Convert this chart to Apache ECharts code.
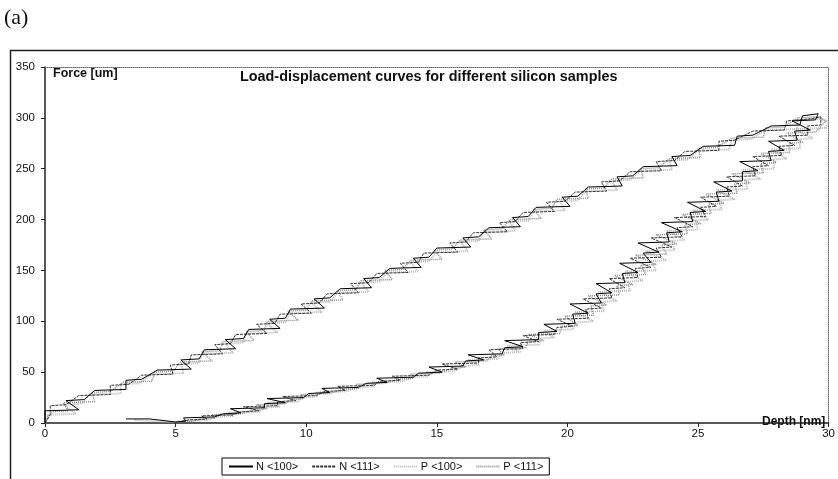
<!DOCTYPE html>
<html>
<head>
<meta charset="utf-8">
<script src="https://cdn.jsdelivr.net/npm/echarts@6/dist/echarts.min.js"></script>
<style>
  html, body { margin: 0; padding: 0; background: #fff; }
  #chart_example { width: 838px; height: 479px; }
</style>
</head>
<body>
<div id="chart_example"></div>
<script>
// [depth nm, force] pairs, loading branch then unloading branch
var seriesNames = ['N <100>', 'N <111>', 'P <100>', 'P <111>']
var xTicks = [0, 5, 10, 15, 20, 25, 30]
var yTicks = [0, 50, 100, 150, 200, 250, 300, 350]

var n100 = [
  [0, 0], [0, 12], [1.3, 13], [0.8, 22], [1.5, 23], [1.9, 32], [3.1, 33], [3.1, 42], [3.7, 43],
  [4.3, 52], [5.6, 53], [5.2, 62], [5.9, 63], [6.1, 72], [7.3, 73], [6.9, 82], [7.6, 83],
  [7.8, 92], [9.0, 93], [8.6, 102], [9.2, 103], [9.4, 112], [10.7, 113], [10.3, 122], [10.9, 123],
  [11.3, 132], [12.5, 133], [12.2, 142], [12.8, 143], [13.2, 152], [14.4, 153], [14.1, 162], [14.7, 163],
  [15.0, 172], [16.3, 173], [16.0, 182], [16.6, 183], [17.0, 192], [18.2, 193], [17.9, 202], [18.5, 203],
  [18.8, 212], [20.1, 213], [19.8, 222], [20.4, 223], [20.8, 232], [22.1, 233], [21.9, 242], [22.5, 243],
  [22.9, 252], [24.2, 253], [24.0, 262], [24.7, 263], [25.2, 272], [26.4, 273], [26.5, 282], [27.1, 283],
  [27.8, 292], [28.9, 293], [29.0, 302], [29.6, 304],
  [29.5, 298], [28.6, 297], [29.3, 288], [28.7, 287], [28.8, 278], [27.7, 277], [28.3, 268], [27.7, 267],
  [27.8, 258], [26.6, 257], [27.3, 248], [26.7, 247], [26.7, 238], [25.6, 237], [26.3, 228], [25.7, 227],
  [25.8, 218], [24.6, 217], [25.3, 208], [24.7, 207], [24.8, 198], [23.6, 197], [24.4, 188], [23.8, 187],
  [23.9, 178], [22.7, 177], [23.5, 168], [22.9, 167], [23.2, 158], [22.0, 157], [22.7, 148], [22.1, 147],
  [22.2, 138], [21.1, 137], [21.7, 128], [21.1, 127], [21.3, 118], [20.1, 117], [20.8, 108], [20.2, 107],
  [20.3, 98], [19.1, 97], [19.6, 90], [18.9, 89], [18.9, 82], [17.6, 81], [18.3, 75], [17.6, 74],
  [17.5, 68], [16.2, 67], [16.8, 62], [16.1, 61], [16.0, 56], [14.7, 55], [15.2, 50], [14.3, 49],
  [14.1, 45], [12.7, 44], [13.1, 40], [12.3, 39], [12.0, 35], [10.6, 34], [10.9, 30], [10.1, 29],
  [9.9, 25], [8.5, 24], [9.2, 20], [8.4, 19], [8.4, 15], [7.1, 14], [7.5, 10], [6.8, 9],
  [6.5, 6], [5.3, 5], [5.4, 2], [5.0, 1], [4.0, 4], [3.1, 4]
]

var n111 = [
  [0, 0], [0.2, 8], [0.2, 17], [0.8, 18], [1.3, 27], [2.5, 28], [2.5, 37], [3.2, 38], [3.7, 47], [4.9, 48],
  [4.8, 57], [5.5, 58], [5.6, 67], [6.8, 68], [6.5, 77], [7.1, 78], [7.3, 87], [8.5, 88],
  [8.1, 97], [8.8, 98], [9.0, 107], [10.2, 108], [9.8, 117], [10.5, 118], [10.8, 127], [12.0, 128],
  [11.7, 137], [12.4, 138], [12.7, 147], [13.9, 148], [13.6, 157], [14.3, 158], [14.5, 167], [15.8, 168],
  [15.5, 177], [16.1, 178], [16.4, 187], [17.7, 188], [17.4, 197], [18.0, 198], [18.3, 207], [19.5, 208],
  [19.2, 217], [19.9, 218], [20.3, 227], [21.5, 228], [21.3, 237], [22.0, 238], [22.4, 247], [23.6, 248],
  [23.4, 257], [24.1, 258], [24.5, 267], [25.8, 268], [25.8, 277], [26.4, 278], [27.1, 287], [28.3, 288],
  [28.4, 297], [29.3, 299], [29.7, 301],
  [29.7, 293], [29.2, 292], [29.2, 283], [28.1, 282], [28.7, 273], [28.1, 272], [28.2, 263], [27.1, 262],
  [27.7, 253], [27.1, 252], [27.2, 243], [26.1, 242], [26.7, 233], [26.1, 232], [26.2, 223], [25.1, 222],
  [25.7, 213], [25.1, 212], [25.3, 203], [24.1, 202], [24.8, 193], [24.2, 192], [24.4, 183], [23.2, 182],
  [24.0, 173], [23.4, 172], [23.6, 163], [22.4, 162], [23.2, 153], [22.6, 152], [22.7, 143], [21.6, 142],
  [22.2, 133], [21.6, 132], [21.7, 123], [20.6, 122], [21.3, 113], [20.7, 112], [20.8, 103], [19.6, 102],
  [20.2, 95], [19.6, 94], [19.5, 87], [18.3, 86], [18.9, 80], [18.2, 79], [18.3, 73], [17.0, 72],
  [17.3, 65], [16.6, 64], [16.6, 59], [15.2, 58], [15.8, 53], [15.0, 52], [14.7, 47], [13.3, 46],
  [13.6, 42], [12.8, 41], [12.6, 37], [11.2, 36], [11.5, 32], [10.7, 31], [10.4, 27], [9.1, 26],
  [9.6, 22], [8.9, 21], [8.9, 17], [7.6, 16], [8.2, 12], [7.5, 11], [7.2, 8], [6.0, 7],
  [6.2, 4], [5.5, 3], [5.1, 1]
]

var p100 = [
  [0, 0], [0.1, 4], [0.1, 8], [1.2, 9], [0.7, 18], [1.4, 19], [1.7, 28], [2.9, 29], [2.9, 38], [3.6, 39],
  [4.1, 48], [5.3, 49], [5.2, 58], [5.9, 59], [6.0, 68], [7.2, 69], [6.9, 78], [7.6, 79],
  [7.7, 88], [8.9, 89], [8.5, 98], [9.2, 99], [9.4, 108], [10.6, 109], [10.2, 118], [10.9, 119],
  [11.2, 128], [12.4, 129], [12.1, 138], [12.8, 139], [13.1, 148], [14.3, 149], [14.0, 158], [14.7, 159],
  [15.0, 168], [16.2, 169], [15.9, 178], [16.6, 179], [16.8, 188], [18.0, 189], [17.8, 198], [18.5, 199],
  [18.7, 208], [19.9, 209], [19.7, 218], [20.4, 219], [20.7, 228], [21.9, 229], [21.7, 238], [22.4, 239],
  [22.8, 248], [24.0, 249], [23.9, 258], [24.6, 259], [25.0, 268], [26.2, 269], [26.3, 278], [27.0, 279],
  [27.6, 288], [28.8, 289], [28.8, 298], [29.7, 299], [30.0, 296],
  [29.9, 290], [28.7, 289], [29.4, 280], [28.9, 279], [28.9, 270], [27.8, 269], [28.4, 260], [27.9, 259],
  [27.9, 250], [26.7, 249], [27.4, 240], [26.8, 239], [26.9, 230], [25.7, 229], [26.4, 220], [25.8, 219],
  [25.9, 210], [24.8, 209], [25.4, 200], [24.9, 199], [25.0, 190], [23.8, 189], [24.5, 180], [24.0, 179],
  [24.1, 170], [23.0, 169], [23.8, 160], [23.2, 159], [23.4, 150], [22.2, 149], [22.9, 140], [22.3, 139],
  [22.4, 130], [21.2, 129], [21.9, 120], [21.3, 119], [21.4, 110], [20.3, 109], [21.0, 100], [20.4, 99],
  [20.2, 92], [19.1, 91], [19.5, 84], [19.0, 83], [18.9, 77], [17.7, 76], [18.2, 70], [17.6, 69],
  [17.3, 63], [16.2, 62], [16.6, 57], [16.0, 56], [15.7, 51], [14.6, 50], [14.7, 46], [14.1, 45],
  [13.7, 41], [12.5, 40], [12.6, 36], [12.0, 35], [11.5, 31], [10.4, 30], [10.4, 26], [9.8, 25],
  [9.7, 21], [8.5, 20], [9.0, 16], [8.4, 15], [8.2, 11], [7.0, 10], [7.2, 7], [6.6, 6],
  [6.2, 3], [5.3, 2], [4.9, 1], [3.4, 3]
]

var p111 = [
  [0, 0], [0.1, 6], [0.3, 11], [0.9, 12], [0.7, 20], [1.9, 21], [1.8, 30], [2.5, 31], [3.0, 40], [4.1, 41],
  [4.2, 50], [4.9, 51], [5.2, 60], [6.4, 61], [6.0, 70], [6.7, 71], [6.8, 80], [8.0, 81],
  [7.7, 90], [8.4, 91], [8.5, 100], [9.7, 101], [9.3, 110], [10.0, 111], [10.2, 120], [11.4, 121],
  [11.2, 130], [11.9, 131], [12.1, 140], [13.3, 141], [13.0, 150], [13.7, 151], [14.0, 160], [15.2, 161],
  [14.9, 170], [15.6, 171], [15.9, 180], [17.1, 181], [16.8, 190], [17.5, 191], [17.8, 200], [19.0, 201],
  [18.7, 210], [19.4, 211], [19.6, 220], [20.8, 221], [20.7, 230], [21.4, 231], [21.7, 240], [22.9, 241],
  [22.8, 250], [23.5, 251], [23.9, 260], [25.1, 261], [25.0, 270], [25.7, 271], [26.3, 280], [27.5, 281],
  [27.6, 290], [28.3, 291], [28.8, 300], [29.6, 301], [29.9, 297],
  [29.5, 286], [28.4, 285], [29.0, 276], [28.5, 275], [28.5, 266], [27.4, 265], [28.0, 256], [27.4, 255],
  [27.5, 246], [26.3, 245], [27.0, 236], [26.4, 235], [26.5, 226], [25.3, 225], [26.0, 216], [25.4, 215],
  [25.5, 206], [24.4, 205], [25.1, 196], [24.5, 195], [24.6, 186], [23.4, 185], [24.2, 176], [23.6, 175],
  [23.8, 166], [22.6, 165], [23.4, 156], [22.8, 155], [23.0, 146], [21.8, 145], [22.5, 136], [21.9, 135],
  [22.0, 126], [20.8, 125], [21.5, 116], [20.9, 115], [21.0, 106], [19.9, 105], [20.4, 96], [19.8, 95],
  [19.7, 88], [18.5, 87], [19.1, 81], [18.5, 80], [18.4, 74], [17.3, 73], [17.6, 67], [17.1, 66],
  [16.9, 61], [15.7, 60], [16.1, 55], [15.6, 54], [15.1, 49], [14.0, 48], [14.1, 44], [13.5, 43],
  [13.0, 39], [11.9, 38], [12.0, 34], [11.4, 33], [10.9, 29], [9.8, 28], [9.9, 24], [9.4, 23],
  [9.2, 19], [8.1, 18], [8.5, 14], [8.0, 13], [7.5, 9], [6.4, 8], [6.5, 5], [6.0, 4],
  [5.7, 2], [5.0, 1]
]

var chartExample = echarts.init(document.getElementById('chart_example'), null, { renderer: 'canvas' })

var baseFont = 'Liberation Sans, Arial, sans-serif'

function curve (name, data, color, type, width) {
  return {
    name: name,
    type: 'line',
    data: data,
    symbol: 'none',
    showSymbol: false,
    smooth: false,
    animation: false,
    lineStyle: { color: color, width: width, type: type },
    itemStyle: { color: color }
  }
}

chartExample.setOption({
  backgroundColor: '#fff',
  animation: false,
  grid: { left: 45, top: 67, width: 788, height: 356 },
  legend: {
    data: seriesNames,
    left: 222,
    top: 458,
    orient: 'horizontal',
    itemWidth: 24,
    itemHeight: 8,
    itemGap: 13,
    padding: [3, 6, 3, 6],
    borderColor: '#000',
    borderWidth: 1,
    itemStyle: { opacity: 0 },
    textStyle: { fontFamily: baseFont, fontSize: 11, color: '#111', padding: [0, 0, 0, -2] }
  },
  xAxis: [
    {
      type: 'value',
      min: xTicks[0],
      max: xTicks[xTicks.length - 1],
      interval: 5,
      axisLine: { show: true, onZero: false, lineStyle: { color: '#222', width: 1.5 } },
      axisTick: { show: true, length: 4, lineStyle: { color: '#222' } },
      axisLabel: { margin: 5, fontFamily: baseFont, fontSize: 11.5, color: '#111' },
      splitLine: { show: false }
    },
    {
      type: 'value',
      position: 'top',
      min: 0,
      max: 30,
      axisLine: { show: true, onZero: false, lineStyle: { color: '#666', width: 1, type: 'dotted' } },
      axisTick: { show: false },
      axisLabel: { show: false },
      splitLine: { show: false }
    }
  ],
  yAxis: [
    {
      type: 'value',
      min: yTicks[0],
      max: yTicks[yTicks.length - 1],
      interval: 50,
      axisLine: { show: true, onZero: false, lineStyle: { color: '#222', width: 1.5 } },
      axisTick: { show: true, length: 4, lineStyle: { color: '#222' } },
      axisLabel: { margin: 10, fontFamily: baseFont, fontSize: 11.5, color: '#111' },
      splitLine: { show: false }
    },
    {
      type: 'value',
      position: 'right',
      min: 0,
      max: 350,
      axisLine: { show: true, onZero: false, lineStyle: { color: '#666', width: 1, type: 'dotted' } },
      axisTick: { show: false },
      axisLabel: { show: false },
      splitLine: { show: false }
    }
  ],
  graphic: [
    {
      type: 'rect',
      silent: true,
      shape: { x: 10.5, y: 50.5, width: 840, height: 440 },
      style: { fill: 'none', stroke: '#222', lineWidth: 1.5 }
    },
    {
      type: 'text',
      x: 4,
      y: 7,
      style: { text: '(a)', font: '22px "Liberation Serif", "DejaVu Serif", serif', fill: '#111' }
    },
    {
      type: 'text',
      x: 240,
      y: 70,
      style: { text: 'Load-displacement curves for different silicon samples', font: 'bold 14.4px ' + baseFont, fill: '#111' }
    },
    {
      type: 'text',
      x: 53,
      y: 67,
      style: { text: 'Force [um]', font: 'bold 12.5px ' + baseFont, fill: '#111' }
    },
    {
      type: 'text',
      x: 762,
      y: 416,
      z: 10,
      style: { text: 'Depth [nm]', font: 'bold 12px ' + baseFont, fill: '#111' }
    }
  ],
  series: [
    curve(seriesNames[2], p100, '#b8b8b8', [1, 1], 2),
    curve(seriesNames[3], p111, '#8c8c8c', [1, 1], 1.5),
    curve(seriesNames[1], n111, '#333', [3, 1], 1),
    curve(seriesNames[0], n100, '#000', 'solid', 1)
  ]
})
</script>
</body>
</html>
